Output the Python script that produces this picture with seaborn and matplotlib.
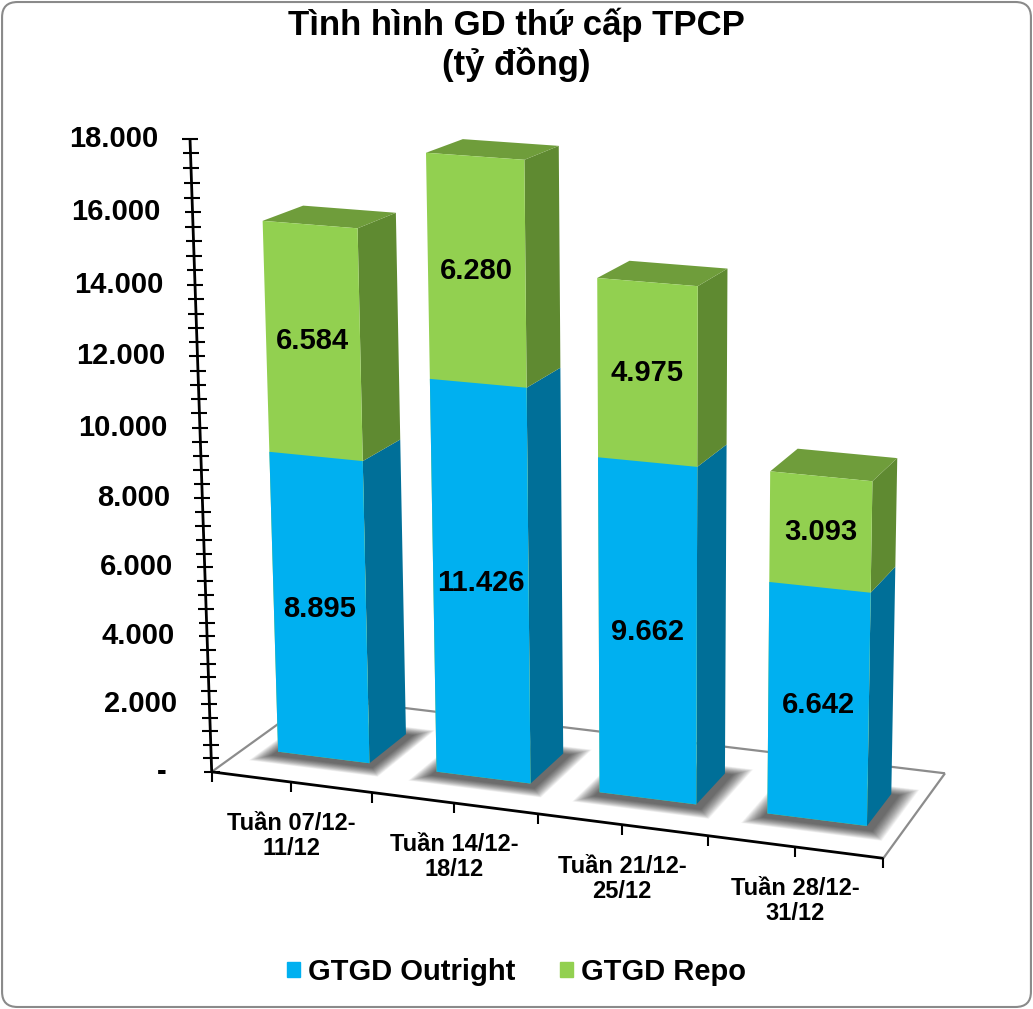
import numpy as np
import pandas as pd
import seaborn as sns
import matplotlib
matplotlib.use("Agg")
import matplotlib.pyplot as plt
import matplotlib.transforms as mtransforms
from matplotlib.patches import Polygon, FancyBboxPatch, Patch
from matplotlib.collections import LineCollection

# ---------------- data ----------------
weeks = ["Tuần 07/12-\n11/12", "Tuần 14/12-\n18/12", "Tuần 21/12-\n25/12", "Tuần 28/12-\n31/12"]
outright = [8895, 11426, 9662, 6642]
repo = [6584, 6280, 4975, 3093]
y_ticks = list(range(0, 18001, 2000))

# ---------------- style ----------------
W, H = 1033, 1009
BLUE, BLUE_SIDE = "#00B0F0", "#006F98"
GREEN, GREEN_SIDE, GREEN_TOP = "#92D050", "#5F8A31", "#6F9D3B"
FONT = ["Liberation Sans", "DejaVu Sans"]
BAR_W = 0.58
Z_FRONT, Z_BACK = 0.31, 0.69   # bar depth inside the floor (floor depth = 1)

sns.set_theme(style="white")
plt.rcParams["font.family"] = FONT
plt.rcParams["font.weight"] = "bold"
plt.rcParams["text.color"] = "black"

# ---------------- 3D camera ----------------
# fitted on the floor corners and the value axis (picture pixels, y down)
floor_img = {(-0.5, 0.0): (211.7, 771.7), (3.5, 0.0): (883.3, 858.3),
             (3.5, 1.0): (945.0, 773.3), (-0.5, 1.0): (315.3, 697.2)}
axis_img_y = {0: 772.0, 2: 705.0, 4: 636.0, 6: 567.0, 8: 497.0,
              10: 428.0, 12: 357.0, 14: 285.0, 16: 212.3, 18: 138.3}


def fit_camera():
    world, img = [], []
    for (X, Z), uv in floor_img.items():
        world.append((X, 0.0, Z))
        img.append(uv)
    for V, v in axis_img_y.items():
        u = 211.7 + (190.0 - 211.7) * (772.0 - v) / (772.0 - 138.3)
        world.append((-0.5, V, 0.0))
        img.append((u, v))
    rows = []
    for (X, V, Z), (u, v) in zip(world, img):
        u, v = u / 1000, (H - v) / 1000
        p = [X, V, Z, 1.0]
        rows.append(p + [0, 0, 0, 0] + [-u * c for c in p])
        rows.append([0, 0, 0, 0] + p + [-v * c for c in p])
    _, _, vt = np.linalg.svd(np.array(rows))
    return vt[-1].reshape(3, 4)


CAM = fit_camera()


def proj(X, V, Z):
    X, V, Z = np.broadcast_arrays(np.asarray(X, float), np.asarray(V, float) / 1000,
                                  np.asarray(Z, float))
    pts = np.stack([X, V, Z, np.ones_like(X)], axis=-1) @ CAM.T
    return pts[..., :2] / pts[..., 2:3] * 1000


class Persp(mtransforms.Transform):
    """(category, value) at a fixed depth -> display pixels"""
    input_dims = output_dims = 2

    def __init__(self, z):
        super().__init__()
        self.z = z

    def transform_non_affine(self, values):
        values = np.asarray(values, float).reshape(-1, 2)
        return proj(values[:, 0], values[:, 1], self.z)


IDENT = mtransforms.IdentityTransform()

fig = plt.figure(figsize=(W / 100, H / 100), dpi=100)
ax = fig.add_axes([0, 0, 1, 1])
ax.set_axis_off()


def face(X, V, Z, color, z=2):
    ax.add_patch(Polygon(proj(X, V, Z), closed=True, facecolor=color, edgecolor="none",
                         transform=IDENT, clip_on=False, zorder=z))


# ---------------- bars (front faces) ----------------
df = pd.DataFrame({"week": weeks, "outright": outright, "repo": repo})
df["total"] = df["outright"] + df["repo"]

sns.barplot(data=df, x="week", y="total", color=GREEN, saturation=1, width=BAR_W,
            errorbar=None, linewidth=0, ax=ax)
sns.barplot(data=df, x="week", y="outright", color=BLUE, saturation=1, width=BAR_W,
            errorbar=None, linewidth=0, ax=ax)
green_bars = ax.patches[:len(weeks)]
blue_bars = ax.patches[len(weeks):2 * len(weeks)]

front = Persp(Z_FRONT)
for p in green_bars + blue_bars:
    p.set_transform(front)
    p.set_clip_on(False)
    p.set_zorder(3)

# ---------------- floor, shadows ----------------
fx = [-0.5, 3.5, 3.5, -0.5]
fz = [0, 0, 1, 1]
corners = proj(fx, 0, fz)
grey_edges = [[corners[3], corners[0]], [corners[3], corners[2]], [corners[2], corners[1]]]
ax.add_collection(LineCollection(grey_edges, colors="#8C8C8C", linewidths=1.6,
                                 transform=IDENT, clip_on=False, zorder=0.5))

# soft shadow: many faint, growing footprints
for p in green_bars:
    x0, x1 = p.get_x(), p.get_x() + p.get_width()
    for k in range(20):
        g = 0.0045 * k
        face([x0 - 0.01 - g, x1 + 0.05 + g, x1 + 0.05 + g, x0 - 0.01 - g], 0,
             [Z_FRONT - 0.05 - g, Z_FRONT - 0.05 - g, Z_BACK + g, Z_BACK + g],
             (0, 0, 0, 0.04), z=1)

# ---------------- bar sides and tops ----------------
for gp, bp in zip(green_bars, blue_bars):
    x0, x1 = gp.get_x(), gp.get_x() + gp.get_width()
    v_out, v_tot = bp.get_height(), gp.get_height()
    zs = [Z_FRONT, Z_BACK, Z_BACK, Z_FRONT]
    face(x1, [0, 0, v_out, v_out], zs, BLUE_SIDE)
    face(x1, [v_out, v_out, v_tot, v_tot], zs, GREEN_SIDE)
    face([x0, x1, x1, x0], v_tot, [Z_FRONT, Z_FRONT, Z_BACK, Z_BACK], GREEN_TOP)


def fmt(v):
    return f"{int(v):,}".replace(",", ".")


for gp, bp in zip(green_bars, blue_bars):
    cx = gp.get_x() + gp.get_width() / 2
    v_out, v_tot = bp.get_height(), gp.get_height()
    ax.text(cx, v_out / 2, fmt(v_out), transform=front, ha="center", va="center",
            fontsize=21, fontweight="bold", color="black", zorder=5)
    ax.text(cx, (v_out + v_tot) / 2, fmt(v_tot - v_out), transform=front, ha="center",
            va="center", fontsize=21, fontweight="bold", color="black", zorder=5)

# ---------------- axes ----------------
axis0 = Persp(0.0)
ax_pts = proj([-0.5, -0.5], [0, y_ticks[-1]], [0, 0])
ax.add_collection(LineCollection([ax_pts, [corners[0], corners[1]]], colors="black",
                                 linewidths=2, transform=IDENT, clip_on=False, zorder=4))

ticks = []
for t in np.arange(0, y_ticks[-1] + 1, 400):
    x, y = proj(-0.5, t, 0)
    ticks.append([(x - 8, y), (x + 8, y)])
for X in np.arange(-0.5, len(weeks) - 0.49, 0.5):
    x, y = proj(X, 0, 0)
    ticks.append([(x, y), (x, y - 10)])
ax.add_collection(LineCollection(ticks, colors="black", linewidths=1.5,
                                 transform=IDENT, clip_on=False, zorder=4))

for t in y_ticks:
    lbl = fmt(t) if t else "-"
    ax.annotate(lbl, xy=(-0.5, t), xycoords=axis0, xytext=(-32 if t else -45, 0),
                textcoords="offset pixels", ha="right", va="center",
                fontsize=21, fontweight="bold", annotation_clip=False)

for i, wk in enumerate(weeks):
    ax.annotate(wk, xy=(i, 0), xycoords=axis0, xytext=(0, -54),
                textcoords="offset pixels", ha="center", va="center",
                fontsize=17, fontweight="bold", linespacing=1.1,
                multialignment="center", annotation_clip=False)

# ---------------- title, legend, border ----------------
fig.text(0.5, 1 - 45 / H, "Tình hình GD thứ cấp TPCP\n(tỷ đồng)", ha="center",
         va="center", fontsize=25, fontweight="bold", linespacing=1.2)

fig.legend(handles=[Patch(color=BLUE), Patch(color=GREEN)],
           labels=["GTGD Outright", "GTGD Repo"], loc="center",
           bbox_to_anchor=(0.5, 1 - 972 / H), ncol=2, frameon=False,
           prop={"size": 21, "weight": "bold"}, handlelength=0.45, handleheight=0.45,
           handletextpad=0.3, columnspacing=1.5)

fig.add_artist(FancyBboxPatch((0.002, 0.002), 0.996, 0.996,
                              boxstyle="round,pad=0,rounding_size=0.015",
                              transform=fig.transFigure, fill=False,
                              edgecolor="#8A8A8A", linewidth=1.5))

fig.savefig("out.png", dpi=100, facecolor="white")
